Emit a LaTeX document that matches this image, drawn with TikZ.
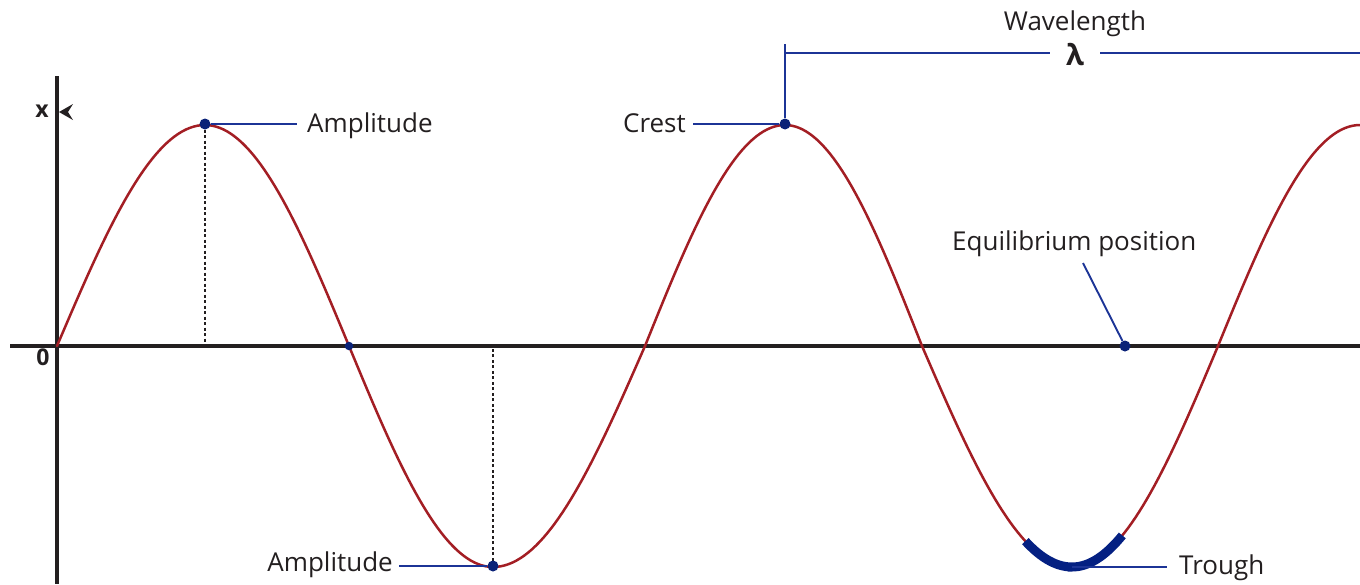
\documentclass[tikz,border=0pt]{standalone}
\usepackage{fontspec}
\setmainfont{Open Sans}
\definecolor{wavered}{RGB}{163,30,36}
\definecolor{leadblue}{RGB}{28,52,150}
\definecolor{dotblue}{RGB}{10,34,120}
\definecolor{troughblue}{RGB}{4,32,130}
\definecolor{axisblack}{RGB}{35,31,32}
\tikzset{
  axisline/.style={draw=axisblack,line width=3.2pt},
  wave/.style={draw=wavered,line width=2.5pt,line cap=round},
  lead/.style={draw=leadblue,line width=1.9pt},
  guide/.style={draw=axisblack,line width=1.5pt,dash pattern=on 3pt off 2.5pt},
  bigdot/.style={circle,fill=dotblue,inner sep=0pt,minimum size=11pt},
  smalldot/.style={circle,fill=dotblue,inner sep=0pt,minimum size=8.5pt},
  lbl/.style={inner sep=0pt,text=axisblack,font=\fontsize{26}{31}\selectfont},
  axlbl/.style={inner sep=0pt,text=axisblack,font=\fontsize{23}{27}\selectfont\bfseries},
  troughseg/.style={draw=troughblue,line width=9pt,line cap=butt}
}
\begin{document}
\begin{tikzpicture}[x=1pt,y=-1pt]
\useasboundingbox (0,0) rectangle (1360,584);
% axes
\coordinate (hax0) at (10,346);
\coordinate (hax1) at (1360,346);
\coordinate (vax0) at (57,76);
\coordinate (vax1) at (57,584);
\draw[axisline] (hax0) -- (hax1);
\draw[axisline] (vax0) -- (vax1);
\node[axlbl] (xl) at (42,111) {x};
\node[axlbl] (zl) at (43,357) {0};
\fill[axisblack] (59,112) -- (73,104) -- (68,112) -- (73,120) -- cycle;
% guide lines
\draw[guide] (205,124) -- (205,346);
\draw[guide] (493,566) -- (493,346);
% wave
\foreach \a/\b/\p in {57/205/0, 205/349/90, 349/493/180, 493/645/270, 645/785/0, 785/922/90, 922/1072/180, 1072/1218/270, 1218/1360/0}
  \draw[wave] plot[domain=0:90,samples=40] ({\a+(\b-\a)*\x/90},{346-221*sin(\x+\p)});
% trough highlight
\draw[troughseg] plot[domain=242:270,samples=20] ({922+150*(\x-180)/90},{346-221*sin(\x)})
   -- plot[domain=270:301,samples=20] ({1072+146*(\x-270)/90},{346-221*sin(\x)});
% dots
\node[bigdot] (damp1) at (205,124) {};
\node[bigdot] (damp2) at (493,566) {};
\node[bigdot] (dcrest) at (785,124) {};
\node[smalldot] (dzero) at (349,346) {};
\node[bigdot] (deq) at (1125,346) {};
\coordinate (dtrough) at (1072,567);
% labels
\node[lbl,anchor=base west] (lamp1) at (307,132) {Amplitude};
\node[lbl,anchor=base east] (lamp2) at (393,571) {Amplitude};
\node[lbl,anchor=base east] (lcrest) at (686,132) {Crest};
\node[lbl,anchor=base west] (ltrough) at (1179,574) {Trough};
\node[lbl,anchor=base west] (leq) at (952,250) {Equilibrium position};
\node[lbl,anchor=base] (lwave) at (1075,30) {Wavelength};
\node[inner sep=0pt,minimum width=50pt,minimum height=26pt,text=axisblack,font=\fontsize{29}{33}\selectfont\bfseries] (lam) at (1075,55) {λ};
% leaders
\draw[lead] (damp1) -- ([xshift=-10pt]lamp1.west |- damp1);
\draw[lead] (damp2) -- ([xshift=6pt]lamp2.east |- damp2);
\draw[lead] (dcrest) -- ([xshift=7pt]lcrest.east |- dcrest);
\draw[lead] (dtrough) -- ([xshift=-12pt]ltrough.west |- dtrough);
\coordinate (eqtop) at (1083,263);
\draw[lead] (eqtop) -- (deq);
\coordinate (wtop) at (785,44);
\coordinate (wleft) at (785,53);
\coordinate (wright) at (1360,53);
\draw[lead] (dcrest) -- (wtop);
\draw[lead] (wleft) -- (lam.west |- wleft);
\draw[lead] (lam.east |- wright) -- (wright);
\end{tikzpicture}
\end{document}
